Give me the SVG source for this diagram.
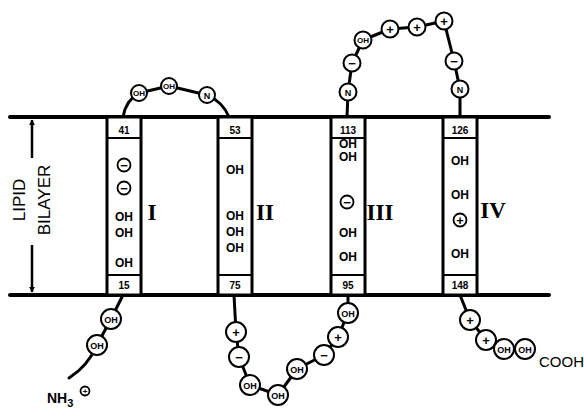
<svg xmlns="http://www.w3.org/2000/svg" width="584" height="409" viewBox="0 0 584 409">
<style>
.mem{stroke:#000;stroke-width:4;fill:none;stroke-linecap:round}
.box{stroke:#000;stroke-width:3;fill:#fff}
.div{stroke:#000;stroke-width:2}
.chain{stroke:#000;stroke-width:3;fill:none;stroke-linecap:round;stroke-linejoin:round}
.res{stroke:#000;stroke-width:2;fill:#fff}
.num{font-family:"Liberation Sans",Arial,sans-serif;font-size:10px;font-weight:bold;text-anchor:middle}
.oh{font-family:"Liberation Sans",Arial,sans-serif;font-size:12px;font-weight:bold;text-anchor:middle}
.sm{font-family:"Liberation Sans",Arial,sans-serif;font-size:8px;font-weight:bold;text-anchor:middle}
.bm{font-family:"Liberation Sans",Arial,sans-serif;font-size:9px;font-weight:bold;text-anchor:middle}
.sym{font-family:"Liberation Sans",Arial,sans-serif;font-size:13px;font-weight:bold;text-anchor:middle}
.rom{font-family:"Liberation Serif","Times New Roman",serif;font-size:23px;font-weight:bold;text-anchor:middle}
.lbl{font-family:"Liberation Sans",Arial,sans-serif;font-size:17px;text-anchor:middle}
.ion{stroke:#000;stroke-width:1.8;fill:#fff}
</style>
<defs>
<marker id="ah" viewBox="0 0 10 10" refX="9" refY="5" markerWidth="6" markerHeight="7" orient="auto" markerUnits="userSpaceOnUse">
<path d="M0,0 L10,5 L0,10 z" fill="#000"/>
</marker>
</defs>

<g id="membrane">
<line class="mem" x1="10" y1="117" x2="549" y2="117"/>
<line class="mem" x1="10" y1="295" x2="549" y2="295"/>
</g>

<g id="bilayer-label">
<line x1="32" y1="158" x2="32" y2="120" stroke="#000" stroke-width="2.5" marker-end="url(#ah)"/>
<line x1="32" y1="245" x2="32" y2="292" stroke="#000" stroke-width="2.5" marker-end="url(#ah)"/>
<text class="lbl" transform="translate(25,200) rotate(-90)">LIPID</text>
<text class="lbl" transform="translate(50,200) rotate(-90)">BILAYER</text>
</g>

<g id="connectors">
<path class="chain" d="M123,117 Q126,100 139,93 L169,86 L207,95 Q223,102 229,117"/>
<path class="chain" d="M347,117 L348,92 L352,63 L363,40 L390,29 L417,27 L444,21 L454,61 L460,89 L460,117"/>
<path class="chain" d="M123,295 L111,319 L97,345 Q88,366 69,378"/>
<path class="chain" d="M234,295 L236,332 L239,357 L250,385 L278,395 L297,369 L324,355 L338,337 L348,313 L348,295"/>
<path class="chain" d="M460,295 L470,320 L486,340 L504,349 L525,349"/>
</g>

<g id="helix-I">
<rect class="box" x="107" y="117" width="34" height="178"/>
<line class="div" x1="107" y1="138" x2="141" y2="138"/>
<line class="div" x1="107" y1="275" x2="141" y2="275"/>
<text class="num" x="124" y="134">41</text>
<text class="num" x="124" y="289">15</text>
<circle class="ion" cx="124" cy="165" r="6.5"/><text class="sym" x="124" y="169.5">−</text>
<circle class="ion" cx="124" cy="188" r="6.5"/><text class="sym" x="124" y="192.5">−</text>
<text class="oh" x="124" y="221">OH</text>
<text class="oh" x="124" y="237">OH</text>
<text class="oh" x="124" y="267">OH</text>
<text class="rom" x="152" y="220">I</text>
</g>

<g id="helix-II">
<rect class="box" x="218" y="117" width="34" height="178"/>
<line class="div" x1="218" y1="138" x2="252" y2="138"/>
<line class="div" x1="218" y1="275" x2="252" y2="275"/>
<text class="num" x="235" y="134">53</text>
<text class="num" x="235" y="289">75</text>
<text class="oh" x="235" y="174">OH</text>
<text class="oh" x="235" y="220">OH</text>
<text class="oh" x="235" y="236">OH</text>
<text class="oh" x="235" y="252">OH</text>
<text class="rom" x="265" y="220">II</text>
</g>

<g id="helix-III">
<rect class="box" x="331" y="117" width="34" height="178"/>
<line class="div" x1="331" y1="138" x2="365" y2="138"/>
<line class="div" x1="331" y1="275" x2="365" y2="275"/>
<text class="num" x="348" y="134">113</text>
<text class="num" x="348" y="289">95</text>
<text class="oh" x="348" y="148" font-size="10.5">OH</text>
<text class="oh" x="348" y="161" font-size="10.5">OH</text>
<circle class="ion" cx="347" cy="202" r="6.5"/><text class="sym" x="347" y="206.5">−</text>
<text class="oh" x="348" y="237">OH</text>
<text class="oh" x="348" y="261">OH</text>
<text class="rom" x="380" y="220">III</text>
</g>

<g id="helix-IV">
<rect class="box" x="443" y="117" width="34" height="178"/>
<line class="div" x1="443" y1="138" x2="477" y2="138"/>
<line class="div" x1="443" y1="275" x2="477" y2="275"/>
<text class="num" x="460" y="134">126</text>
<text class="num" x="460" y="289">148</text>
<text class="oh" x="460" y="165">OH</text>
<text class="oh" x="460" y="199">OH</text>
<circle class="ion" cx="460" cy="220" r="6.5"/><text class="sym" x="460" y="224.5">+</text>
<text class="oh" x="460" y="258">OH</text>
<text class="rom" x="493" y="218">IV</text>
</g>

<g id="loop-I-II">
<circle class="res" cx="139" cy="93" r="8"/><text class="sm" x="139" y="96">OH</text>
<circle class="res" cx="169" cy="86" r="8"/><text class="sm" x="169" y="89">OH</text>
<circle class="res" cx="207" cy="95" r="8"/><text class="bm" x="207" y="98.5">N</text>
</g>

<g id="loop-III-IV">
<circle class="res" cx="348" cy="92" r="8.5"/><text class="bm" x="348" y="95.5">N</text>
<circle class="res" cx="352" cy="63" r="8.5"/><text class="sym" x="352" y="67.5">−</text>
<circle class="res" cx="363" cy="40" r="8.5"/><text class="sm" x="363" y="43">OH</text>
<circle class="res" cx="390" cy="29" r="8.5"/><text class="sym" x="390" y="33.5">+</text>
<circle class="res" cx="417" cy="27" r="8.5"/><text class="sym" x="417" y="31.5">+</text>
<circle class="res" cx="444" cy="21" r="8.5"/><text class="sym" x="444" y="25.5">+</text>
<circle class="res" cx="454" cy="61" r="8.5"/><text class="sym" x="454" y="65.5">−</text>
<circle class="res" cx="460" cy="89" r="8.5"/><text class="bm" x="460" y="92.5">N</text>
</g>

<g id="n-terminus">
<circle class="res" cx="111" cy="319" r="10"/><text class="bm" x="111" y="322.5">OH</text>
<circle class="res" cx="97" cy="345" r="10"/><text class="bm" x="97" y="348.5">OH</text>
<text font-family="Liberation Sans, Arial, sans-serif" font-size="14" font-weight="bold" x="47" y="403">NH<tspan font-size="11" dy="4">3</tspan></text>
<circle class="ion" cx="85" cy="391" r="4.5" stroke-width="1.4"/><text font-family="Liberation Sans, Arial, sans-serif" font-size="8" font-weight="bold" text-anchor="middle" x="85" y="394">+</text>
</g>

<g id="loop-II-III">
<circle class="res" cx="236" cy="332" r="10"/><text class="sym" x="236" y="336.5">+</text>
<circle class="res" cx="239" cy="357" r="10"/><text class="sym" x="239" y="361.5">−</text>
<circle class="res" cx="250" cy="385" r="10"/><text class="bm" x="250" y="388.5">OH</text>
<circle class="res" cx="278" cy="395" r="10"/><text class="bm" x="278" y="398.5">OH</text>
<circle class="res" cx="297" cy="369" r="10"/><text class="bm" x="297" y="372.5">OH</text>
<circle class="res" cx="324" cy="355" r="10"/><text class="sym" x="324" y="359.5">−</text>
<circle class="res" cx="338" cy="337" r="10"/><text class="sym" x="338" y="341.5">+</text>
<circle class="res" cx="348" cy="313" r="10"/><text class="bm" x="348" y="316.5">OH</text>
</g>

<g id="c-terminus">
<circle class="res" cx="470" cy="320" r="10"/><text class="sym" x="470" y="324.5">+</text>
<circle class="res" cx="486" cy="340" r="10"/><text class="sym" x="486" y="344.5">+</text>
<circle class="res" cx="504" cy="349" r="10"/><text class="bm" x="504" y="352.5">OH</text>
<circle class="res" cx="525" cy="349" r="10"/><text class="bm" x="525" y="352.5">OH</text>
<text font-family="Liberation Sans, Arial, sans-serif" font-size="15" x="539" y="367">COOH</text>
</g>
</svg>
